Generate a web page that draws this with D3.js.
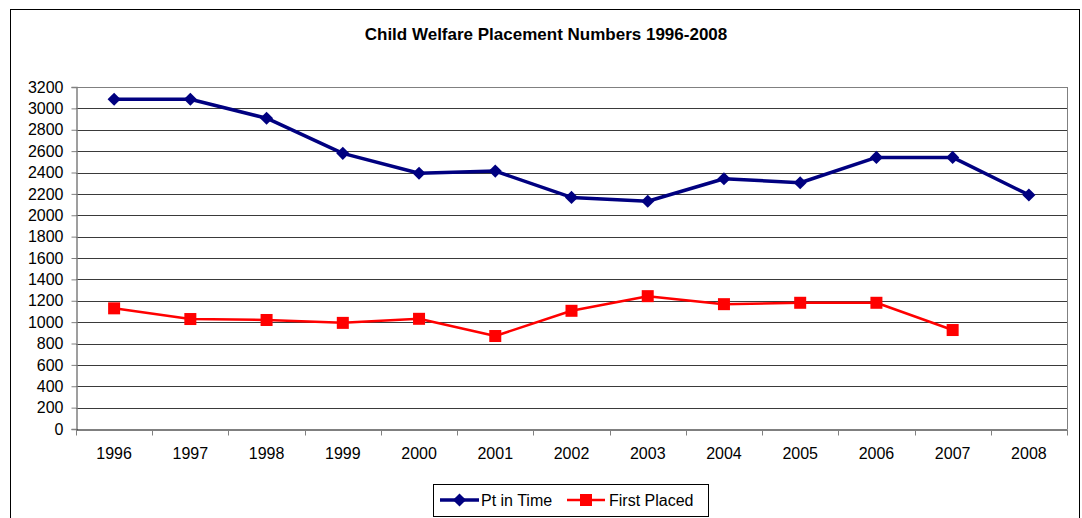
<!DOCTYPE html>
<html>
<head>
<meta charset="utf-8">
<script src="https://cdn.jsdelivr.net/npm/d3@7"></script>
<style>
  body { margin: 0; background: #fff; }
  svg text { font-family: Arial, "Liberation Sans", sans-serif; fill: #000; }
</style>
</head>
<body>
<div id="chart"></div>
<script>
// data
const years = ["1996", "1997", "1998", "1999", "2000", "2001", "2002", "2003", "2004", "2005", "2006", "2007", "2008"];
const ptInTime = [3085, 3085, 2908, 2579, 2393, 2413, 2167, 2131, 2342, 2304, 2541, 2541, 2190];
const firstPlaced = [1129, 1029, 1020, 993, 1031, 870, 1106, 1243, 1168, 1181, 1181, 926, null];
const yTicks = d3.range(0, 3201, 200);

const width = 1082, height = 518;
const plot = {left: 76, right: 1067, top: 87, bottom: 429};

let svg = d3.select("#chart").append("svg")
    .attr("width", width)
    .attr("height", height);

// outer chart border
svg.append("rect")
    .attr("x", 10.5).attr("y", 9.5)
    .attr("width", 1069).attr("height", 520)
    .attr("fill", "#fff").attr("stroke", "#000");

svg.append("text")
    .attr("x", 546).attr("y", 40)
    .attr("text-anchor", "middle")
    .style("font-size", "17px").style("font-weight", "bold")
    .text("Child Welfare Placement Numbers 1996-2008");

let xScale = d3.scaleBand()
    .domain(years)
    .range([plot.left, plot.right]);

let yScale = d3.scaleLinear()
    .domain([0, 3200])
    .range([plot.bottom, plot.top]);

// gridlines
svg.append("g")
    .selectAll("line")
    .data(yTicks.filter(d => d > 0))
    .enter()
    .append("line")
    .attr("x1", plot.left).attr("x2", plot.right)
    .attr("y1", d => Math.round(yScale(d)) + 0.5)
    .attr("y2", d => Math.round(yScale(d)) + 0.5)
    .attr("stroke", d => d === 3200 ? "#808080" : "#3a3a3a");

// plot area right edge
svg.append("line")
    .attr("x1", plot.right + 0.5).attr("x2", plot.right + 0.5)
    .attr("y1", plot.top).attr("y2", plot.bottom)
    .attr("stroke", "#808080");

let yAxis = d3.axisLeft(yScale)
    .tickValues(yTicks)
    .tickSize(5)
    .tickPadding(8)
    .tickFormat(d3.format("d"));

let gy = svg.append("g")
    .attr("transform", "translate(" + (plot.left + 0.5) + ",0)")
    .call(yAxis);
gy.select(".domain").attr("stroke", "#808080").attr("stroke-width", 1.5);
gy.selectAll(".tick line").attr("stroke", "#808080");
gy.selectAll(".tick text").style("font-size", "16px").attr("fill", "#000");

let xAxis = d3.axisBottom(xScale)
    .tickSize(0)
    .tickPadding(18);

let gx = svg.append("g")
    .attr("transform", "translate(0," + (plot.bottom + 0.5) + ")")
    .call(xAxis);
gx.select(".domain").attr("stroke", "#000");
gx.selectAll(".tick text").style("font-size", "16px").attr("fill", "#000");

// category boundary ticks
gx.selectAll(".bound")
    .data(years.concat(["end"]))
    .enter()
    .append("line")
    .attr("x1", (d, i) => Math.round(plot.left + i * xScale.step()) + 0.5)
    .attr("x2", (d, i) => Math.round(plot.left + i * xScale.step()) + 0.5)
    .attr("y1", 0).attr("y2", 6)
    .attr("stroke", "#808080");

let cx = d => xScale(d) + xScale.bandwidth() / 2;
let diamond = d3.symbol().type(d3.symbolDiamond2).size(110);

function drawSeries(values, color, lw, marker) {
  let pts = years.map((y, i) => ({year: y, v: values[i]})).filter(d => d.v != null);
  let line = d3.line().x(d => cx(d.year)).y(d => yScale(d.v));
  svg.append("path")
      .datum(pts)
      .attr("d", line)
      .attr("fill", "none")
      .attr("stroke", color)
      .attr("stroke-width", lw)
      .attr("stroke-linejoin", "round");
  let g = svg.append("g");
  pts.forEach(d => marker(g, cx(d.year), yScale(d.v)));
}

function diamondMark(g, x, y) {
  g.append("path")
      .attr("d", diamond())
      .attr("transform", "translate(" + x + "," + y + ")")
      .attr("fill", "#000080");
}

function squareMark(g, x, y) {
  g.append("rect")
      .attr("x", x - 6).attr("y", y - 6)
      .attr("width", 12).attr("height", 12)
      .attr("fill", "#ff0000");
}

drawSeries(ptInTime, "#000080", 3.5, diamondMark);
drawSeries(firstPlaced, "#ff0000", 2.5, squareMark);

// legend
let legend = svg.append("g");
legend.append("rect")
    .attr("x", 433.5).attr("y", 484.5)
    .attr("width", 275).attr("height", 32)
    .attr("fill", "#fff").attr("stroke", "#000");

legend.append("line")
    .attr("x1", 440).attr("x2", 479).attr("y1", 500).attr("y2", 500)
    .attr("stroke", "#000080").attr("stroke-width", 3.5);
diamondMark(legend, 459.5, 500);
legend.append("text")
    .attr("x", 481).attr("y", 506)
    .style("font-size", "16px")
    .text("Pt in Time");

legend.append("line")
    .attr("x1", 567).attr("x2", 605).attr("y1", 500).attr("y2", 500)
    .attr("stroke", "#ff0000").attr("stroke-width", 2.5);
squareMark(legend, 586, 500);
legend.append("text")
    .attr("x", 609).attr("y", 506)
    .style("font-size", "16px")
    .text("First Placed");
</script>
</body>
</html>
